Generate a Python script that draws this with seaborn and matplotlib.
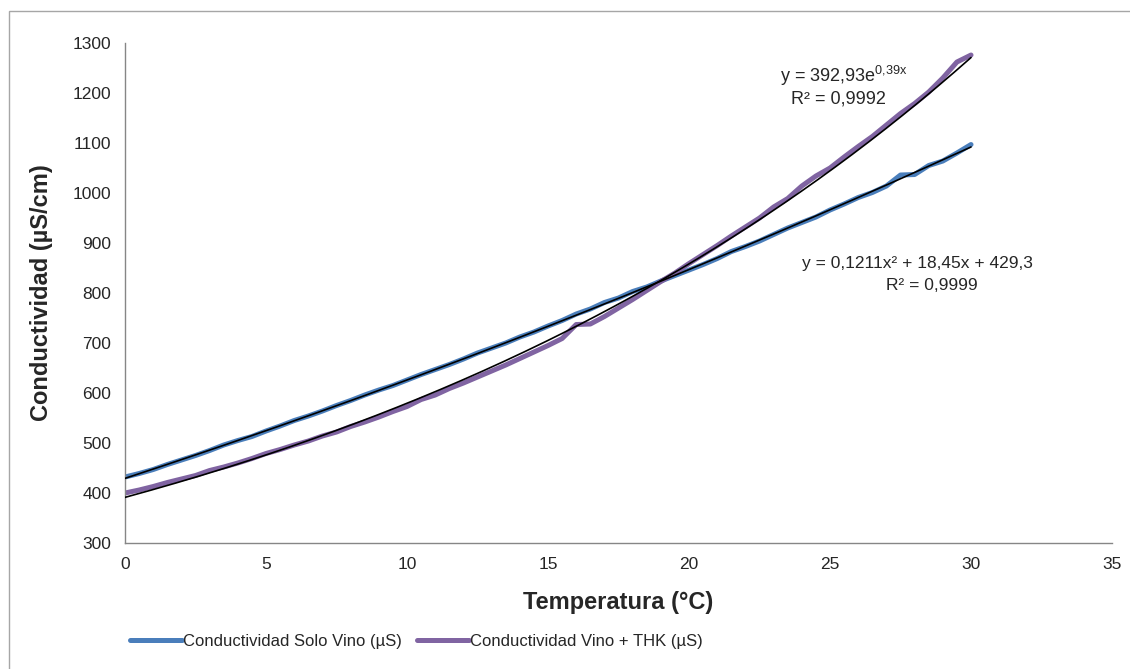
import numpy as np
import pandas as pd
import matplotlib
matplotlib.use("Agg")
import matplotlib.pyplot as plt
import matplotlib.patches as mpatches
import seaborn as sns

# ---------------- data ----------------
temperatura = [i * 0.5 for i in range(61)]  # 0 .. 30 °C

solo_vino = [432, 439, 447, 457, 466, 475, 485, 496, 505, 513,
             524, 534, 545, 554, 564, 575, 585, 596, 606, 615,
             626, 637, 647, 657, 668, 680, 690, 700, 712, 722,
             734, 745, 758, 768, 781, 790, 803, 812, 824, 835,
             846, 857, 869, 883, 893, 904, 917, 930, 941, 952,
             966, 978, 991, 1001, 1014, 1036, 1037, 1055, 1064, 1080,
             1097]

vino_thk = [400, 406, 413, 421, 428, 435, 445, 452, 460, 469,
            479, 487, 496, 504, 514, 522, 533, 542, 552, 563,
            573, 587, 596, 609, 620, 632, 644, 656, 669, 682,
            695, 709, 737, 738, 753, 770, 787, 805, 823, 840,
            859, 877, 895, 914, 932, 950, 972, 989, 1014, 1034,
            1050, 1072, 1093, 1113, 1136, 1159, 1179, 1202, 1230, 1262,
            1276]

series_names = ["Conductividad Solo Vino (µS)", "Conductividad Vino + THK (µS)"]
series_colors = ["#4A7EBB", "#8064A2"]

eq_exp = ["y = 392,93e$^{\\mathregular{0{,}39x}}$", "R² = 0,9992"]
eq_poly = ["y = 0,1211x² + 18,45x + 429,3", "R² = 0,9999"]

x_ticks = [0, 5, 10, 15, 20, 25, 30, 35]
y_ticks = [300, 400, 500, 600, 700, 800, 900, 1000, 1100, 1200, 1300]

# ---------------- style ----------------
sns.set_style("white")
plt.rcParams["font.family"] = ["Liberation Sans", "DejaVu Sans"]
plt.rcParams["mathtext.fontset"] = "custom"
plt.rcParams["mathtext.rm"] = "Liberation Sans"

TXT = "#262626"

fig = plt.figure(figsize=(11.30, 6.69), dpi=100)
ax = fig.add_axes([0.1106, 0.1883, 0.8735, 0.7474])

df = pd.DataFrame({
    "Temperatura": temperatura * 2,
    "Conductividad": solo_vino + vino_thk,
    "Serie": [series_names[0]] * len(solo_vino) + [series_names[1]] * len(vino_thk),
})

sns.lineplot(data=df, x="Temperatura", y="Conductividad", hue="Serie",
             palette=dict(zip(series_names, series_colors)), linewidth=3.6,
             ax=ax, legend=True)

# trendlines fitted from the data (as the spreadsheet does)
xs = np.array(temperatura)
pcoef = np.polyfit(xs, np.array(solo_vino), 2)
ecoef = np.polyfit(xs, np.log(np.array(vino_thk)), 1)
xt = np.linspace(xs.min(), xs.max(), 200)
ax.plot(xt, np.polyval(pcoef, xt), color="black", linewidth=1.2, zorder=5)
ax.plot(xt, np.exp(np.polyval(ecoef, xt)), color="black", linewidth=1.2, zorder=5)

# axes
ax.set_xlim(0, 35)
ax.set_ylim(300, 1300)
ax.set_xticks(x_ticks)
ax.set_yticks(y_ticks)
ax.tick_params(axis="both", labelsize=12.5, labelcolor=TXT, length=5,
               width=1, direction="out", pad=5, color="#868686")
for s in ["top", "right"]:
    ax.spines[s].set_visible(False)
for s in ["left", "bottom"]:
    ax.spines[s].set_color("#868686")
    ax.spines[s].set_linewidth(1.0)
ax.grid(False)

ax.set_xlabel("Temperatura (°C)", fontsize=17, fontweight="bold", color=TXT, labelpad=14)
ax.set_ylabel("Conductividad (µS/cm)", fontsize=17, fontweight="bold", color=TXT, labelpad=14)

# equations
ax.text(25.5, 1235, eq_exp[0], fontsize=13, color=TXT, ha="center", va="center")
ax.text(25.3, 1188, eq_exp[1], fontsize=13, color=TXT, ha="center", va="center")
ax.text(28.1, 860, eq_poly[0], fontsize=12.5, color=TXT, ha="center", va="center")
ax.text(28.6, 816, eq_poly[1], fontsize=12.5, color=TXT, ha="center", va="center")

# legend
handles, labels = ax.get_legend_handles_labels()
ax.legend(handles, labels, loc="center left", bbox_to_anchor=(0.005, -0.196),
          ncol=2, frameon=False, fontsize=12, handlelength=3.1,
          handletextpad=0.1, columnspacing=0.9, borderaxespad=0, borderpad=0)

# outer chart border (right/bottom edges fall outside the image)
fig.patches.append(mpatches.Rectangle((9 / 1130, -0.05), 1.2, 1 - 11 / 669 + 0.05,
                                      transform=fig.transFigure, fill=False,
                                      edgecolor="#A6A6A6", linewidth=1.0))

fig.savefig("out.png", dpi=100)
